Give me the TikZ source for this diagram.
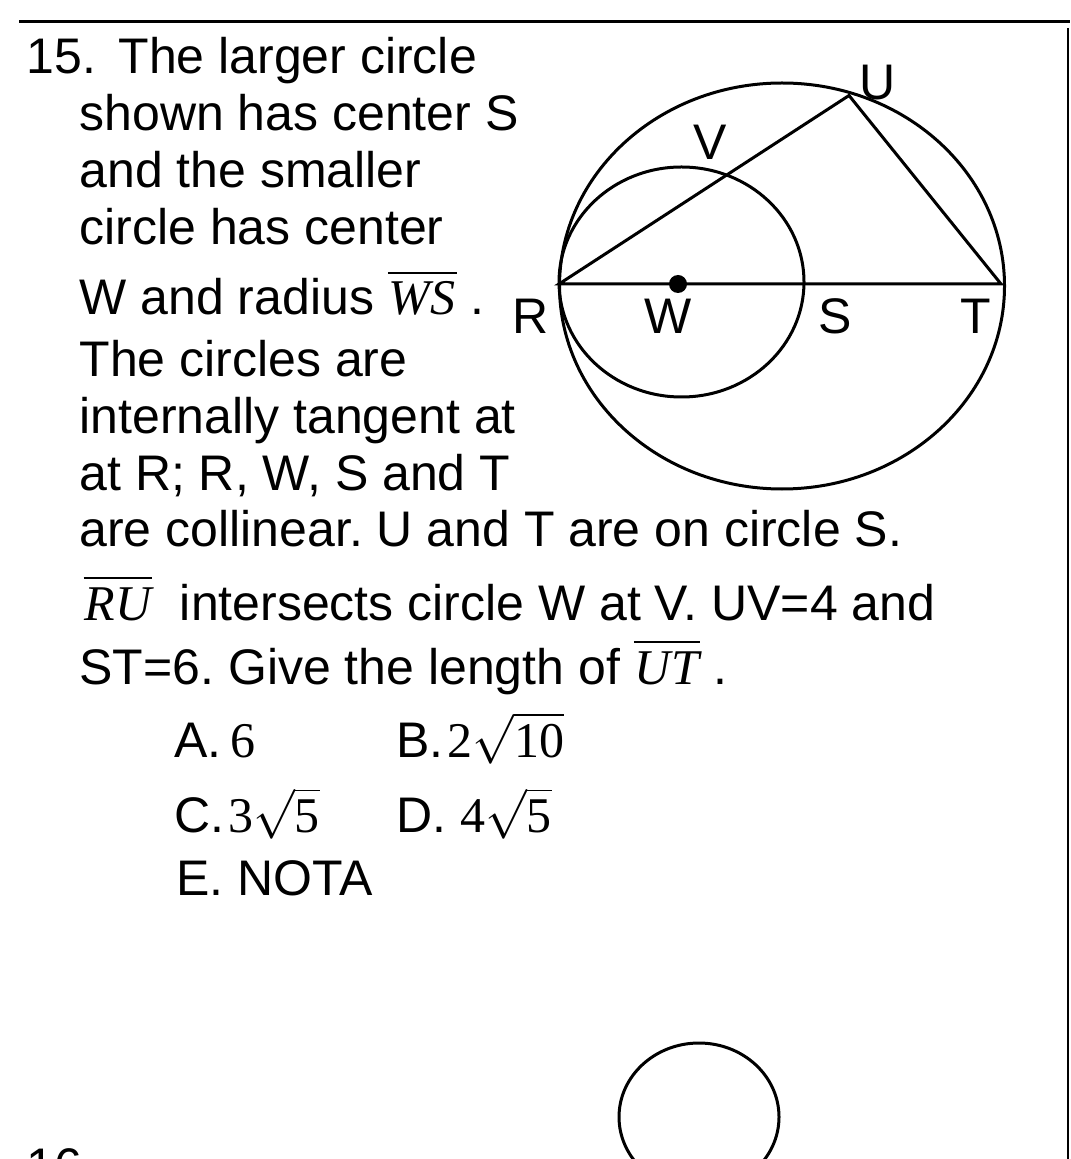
\documentclass[tikz,border=0pt]{standalone}
\usepackage{fontspec}
\setmainfont{Liberation Sans}
\newfontfamily\timesfont{Liberation Serif}
\usetikzlibrary{positioning}
\frenchspacing
\newcommand{\qsize}{\fontsize{25}{30}\selectfont}
\newcommand{\ovl}[1]{\vbox{\hrule height 1pt\kern 4pt\hbox{\kern0.5pt\timesfont\itshape #1\kern0.5pt}}}
\newcommand{\rt}[1]{$\sqrt{\hbox{\timesfont #1}}$}

\begin{document}
\begin{tikzpicture}[x=0.5pt, y=-0.5pt, line width=1.5pt,
  txt/.style={anchor=base west, inner sep=0pt, font=\qsize},
  lbl/.style={inner sep=0pt, font=\qsize}]
  \clip (0,0) rectangle (1070,1159);

  % page rules
  \draw (19,21.5) -- (1070,21.5);
  \draw[line width=1pt] (1068,28) -- (1068,1159);

  % question text
  \node[txt] (num15) at (25,74) {15.};
  \node[txt] (ln1) at (117,74) {The larger circle};
  \node[txt] (ln2) at (78,131) {shown has center S};
  \node[txt] (ln3) at (78,188) {and the smaller};
  \node[txt] (ln4) at (78,245) {circle has center};
  \node[txt] (ln5) at (78,315) {W and radius \ovl{WS} .};
  \node[txt] (ln6) at (78,377) {The circles are};
  \node[txt] (ln7) at (78,434) {internally tangent at};
  \node[txt] (ln8) at (78,490) {at R; R, W, S and T};
  \node[txt] (ln9) at (78,546) {are collinear. U and T are on circle S.};
  \node[txt] (ln10) at (82,620) {\ovl{RU}\ \ intersects circle W at V. UV=4 and};
  \node[txt] (ln11) at (78,684) {ST=6. Give the length of \ovl{UT} .};

  % choices
  \node[txt] (ansA) at (173,757) {A.\,{\timesfont 6}};
  \node[txt] (ansB) at (395,757) {B.\kern2pt{\timesfont 2}\rt{10}};
  \node[txt] (ansC) at (173,832) {C.\kern2pt{\timesfont 3}\rt{5}};
  \node[txt] (ansD) at (395,832) {D.\ {\timesfont 4}\rt{5}};
  \node[txt] (ansE) at (175,895) {E. NOTA};
  \node[txt] (num16) at (25,1183) {16};

  % figure
  \coordinate (R) at (559,284);
  \coordinate (S) at (782,284);
  \coordinate (T) at (1001,284);
  \coordinate (W) at (678,284);
  \coordinate (U) at (849,95.5);
  \coordinate (V) at (727.5,174.5);

  \draw (782,286) ellipse [x radius=222.5, y radius=203];
  \draw (681.5,282) ellipse [x radius=122.5, y radius=115];
  \draw (R) -- (T) -- (U) -- cycle;
  \fill (W) circle [radius=9];

  \node[lbl] (labU) at (878,83) {U};
  \node[lbl] (labV) at (710,142) {V};
  \node[lbl] (labR) at (531,316) {R};
  \node[lbl] (labW) at (668,316) {W};
  \node[lbl] (labS) at (835,316) {S};
  \node[lbl] (labT) at (976,316) {T};

  % next question figure
  \draw (699,1117) ellipse [x radius=80, y radius=74];
\end{tikzpicture}
\end{document}
